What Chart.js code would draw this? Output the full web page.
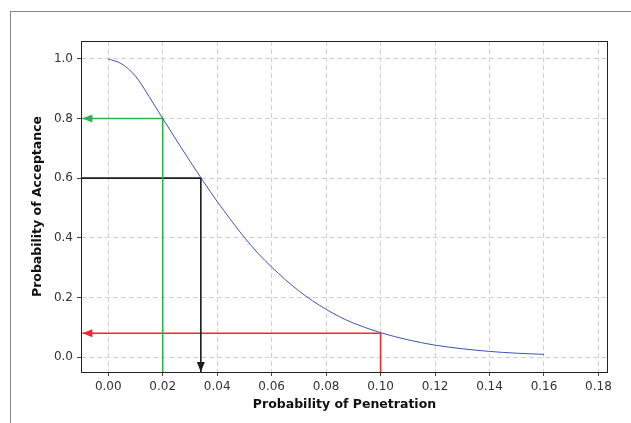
<!DOCTYPE html>
<html lang="en">
<head>
    <meta charset="UTF-8">
    <title>OC Curve</title>
    <script src="https://cdn.jsdelivr.net/npm/chart.js"></script>
    <style>
        html, body {
            margin: 0;
            padding: 0;
            background: #fff;
        }
        #wrap {
            position: relative;
            width: 631px;
            height: 423px;
        }
        #frame {
            position: absolute;
            left: 10px;
            top: 11px;
            right: 0;
            bottom: 0;
            border-top: 1px solid #888;
            border-left: 1px solid #888;
        }
        canvas {
            position: absolute;
            left: 0;
            top: 0;
        }
    </style>
</head>
<body>
    <div id="wrap">
        <div id="frame"></div>
        <canvas id="ocChart" width="631" height="423"></canvas>
    </div>

    <script>
        // OC curve
        const penetration = [0, 0.005, 0.01, 0.015, 0.02, 0.025, 0.03, 0.035, 0.04, 0.045, 0.05,
                             0.055, 0.06, 0.065, 0.07, 0.075, 0.08, 0.085, 0.09, 0.10, 0.11,
                             0.12, 0.13, 0.14, 0.15, 0.16];
        const acceptance = [1.0, 0.983, 0.942, 0.874, 0.80, 0.728, 0.657, 0.588, 0.522, 0.460, 0.401,
                            0.348, 0.302, 0.260, 0.222, 0.189, 0.160, 0.135, 0.114, 0.082, 0.058,
                            0.040, 0.028, 0.019, 0.013, 0.009];

        // guide lines: [x, y] corners
        const greenGuide = [[-0.0095, 0.8], [0.02, 0.8], [0.02, -0.05]];
        const blackGuide = [[-0.01, 0.6], [0.034, 0.6], [0.034, -0.05]];
        const redGuide = [[-0.0095, 0.08], [0.10, 0.08], [0.10, -0.05]];

        const xTicks = [0, 0.02, 0.04, 0.06, 0.08, 0.10, 0.12, 0.14, 0.16, 0.18];
        const yTicks = [0, 0.2, 0.4, 0.6, 0.8, 1.0];

        const curve = penetration.map((p, i) => ({ x: p, y: acceptance[i] }));
        const toPts = arr => arr.map(a => ({ x: a[0], y: a[1] }));

        // frame round the plot area
        const framePlugin = {
            id: "plotFrame",
            afterDraw(chart) {
                const { ctx, chartArea } = chart;
                ctx.save();
                ctx.strokeStyle = "#222";
                ctx.lineWidth = 1;
                ctx.strokeRect(chartArea.left + 0.5, chartArea.top + 0.5,
                    chartArea.right - chartArea.left - 1, chartArea.bottom - chartArea.top);
                ctx.restore();
            }
        };

        // arrow heads at the ends of the guide lines
        const arrowPlugin = {
            id: "arrowHeads",
            afterDatasetsDraw(chart) {
                const ctx = chart.ctx;
                chart.data.datasets.forEach((ds, i) => {
                    if (!ds.arrow) return;
                    const pts = chart.getDatasetMeta(i).data;
                    const p = ds.arrow === "left" ? pts[0] : pts[pts.length - 1];
                    const len = 10, half = 4;
                    ctx.save();
                    ctx.fillStyle = ds.borderColor;
                    ctx.beginPath();
                    if (ds.arrow === "left") {
                        ctx.moveTo(p.x, p.y);
                        ctx.lineTo(p.x + len, p.y - half);
                        ctx.lineTo(p.x + len, p.y + half);
                    } else {
                        ctx.moveTo(p.x, p.y);
                        ctx.lineTo(p.x - half, p.y - len);
                        ctx.lineTo(p.x + half, p.y - len);
                    }
                    ctx.closePath();
                    ctx.fill();
                    ctx.restore();
                });
            }
        };

        const tickFont = { family: "'DejaVu Sans', sans-serif", size: 12 };
        const titleFont = { family: "'DejaVu Sans', sans-serif", size: 12.5, weight: "bold" };

        new Chart(document.getElementById("ocChart"), {
            type: "line",
            data: {
                datasets: [
                    {
                        data: curve,
                        borderColor: "#3a55b2",
                        borderWidth: 1,
                        pointRadius: 0,
                        cubicInterpolationMode: "monotone"
                    },
                    {
                        data: toPts(greenGuide),
                        borderColor: "#2bb34c",
                        borderWidth: 1.6,
                        pointRadius: 0,
                        tension: 0,
                        clip: false,
                        arrow: "left"
                    },
                    {
                        data: toPts(blackGuide),
                        borderColor: "#1c1c1c",
                        borderWidth: 1.6,
                        pointRadius: 0,
                        tension: 0,
                        clip: false,
                        arrow: "down"
                    },
                    {
                        data: toPts(redGuide),
                        borderColor: "#ee2a2e",
                        borderWidth: 1.6,
                        pointRadius: 0,
                        tension: 0,
                        clip: false,
                        arrow: "left"
                    }
                ]
            },
            options: {
                responsive: false,
                animation: false,
                layout: { padding: { top: 41, right: 23, left: 0, bottom: 0 } },
                plugins: {
                    legend: { display: false },
                    tooltip: { enabled: false }
                },
                scales: {
                    x: {
                        type: "linear",
                        min: -0.01,
                        max: 0.1835,
                        afterFit: s => { s.height = 51; },
                        afterBuildTicks: s => { s.ticks = xTicks.map(v => ({ value: v })); },
                        ticks: {
                            font: tickFont,
                            color: "#333",
                            padding: 4,
                            maxRotation: 0,
                            callback: v => v.toFixed(2)
                        },
                        grid: {
                            color: "#d2d2d2",
                            tickColor: "#444",
                            tickLength: 4,
                            tickBorderDash: []
                        },
                        border: { display: false, dash: [5, 3] },
                        title: {
                            display: true,
                            text: "Probability of Penetration",
                            font: titleFont,
                            color: "#111",
                            padding: { top: 0, bottom: 11 }
                        }
                    },
                    y: {
                        min: -0.05,
                        max: 1.06,
                        afterFit: s => { s.width = 81; },
                        afterBuildTicks: s => { s.ticks = yTicks.map(v => ({ value: v })); },
                        ticks: {
                            font: tickFont,
                            color: "#333",
                            padding: 4,
                            callback: v => v.toFixed(1)
                        },
                        grid: {
                            color: "#d2d2d2",
                            tickColor: "#444",
                            tickLength: 4,
                            tickBorderDash: []
                        },
                        border: { display: false, dash: [5, 3] },
                        title: {
                            display: true,
                            text: "Probability of Acceptance",
                            font: titleFont,
                            color: "#111",
                            padding: { top: 30, bottom: 0 }
                        }
                    }
                }
            },
            plugins: [framePlugin, arrowPlugin]
        });
    </script>
</body>
</html>
